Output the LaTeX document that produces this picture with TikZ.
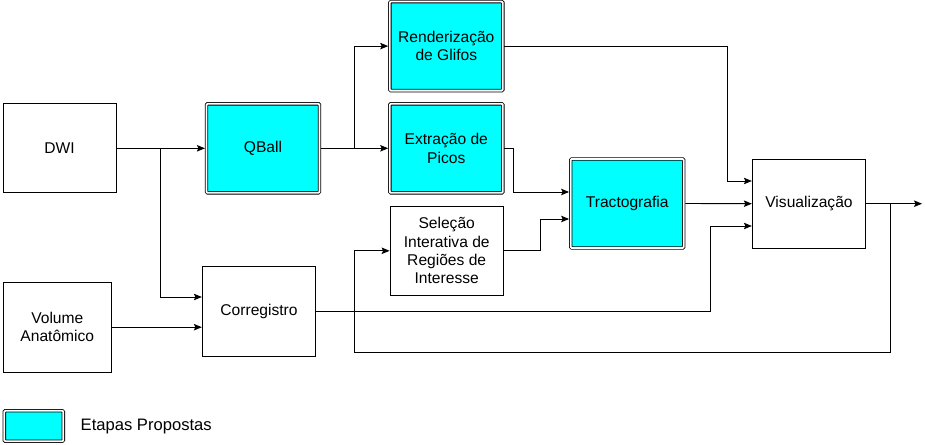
\documentclass[tikz,border=0pt]{standalone}
\usepackage{fontspec}
\setmainfont{Liberation Sans}
\usetikzlibrary{arrows.meta}
\definecolor{prop}{RGB}{0,255,255}
\tikzset{
  box/.style={draw, line width=0.9pt, minimum width=113pt, minimum height=89pt, inner sep=0pt, align=center, font=\fontsize{15.6}{18.3}\selectfont},
  propbox/.style={box, fill=prop, double=white, double distance=1.8pt, line width=0.8pt, rounded corners=1pt, outer sep=1.6pt},
  arr/.style={line width=0.9pt, -{Stealth[length=8pt,width=6.5pt,inset=1.5pt]}},
  ln/.style={line width=0.9pt}
}
\begin{document}
\begin{tikzpicture}[x=1pt,y=-1pt]
\useasboundingbox (0,0) rectangle (925,444);
% nodes
\node[box] (dwi) at (59.5,148.3) {DWI};
\node[box, minimum width=108.5pt, minimum height=89.5pt] (vol) at (57.3,327.2) {Volume\\Anatômico};
\node[propbox] (qball) at (263,148.3) {QBall};
\node[propbox] (ren) at (446.3,46.1) {Renderização\\de Glifos};
\node[propbox] (ext) at (446.3,148.3) {Extração de\\Picos};
\node[box, minimum width=113.3pt, minimum height=89.7pt] (sel) at (446.7,250.8) {Seleção\\Interativa de\\Regiões de\\Interesse};
\node[box, minimum width=113.4pt, minimum height=90pt] (cor) at (259,311.7) {Corregistro};
\node[propbox] (trac) at (627.2,203.5) {Tractografia};
\node[box, minimum width=113.4pt, minimum height=89.3pt] (vis) at (809,203.7) {Visualização};
% legend
\node[propbox, minimum width=59pt, minimum height=30.5pt] (leg) at (33.8,426) {};
\node[anchor=west, inner sep=0pt, font=\fontsize{16.6}{19}\selectfont] (legtxt) at (80.5,427) {Etapas Propostas};
% junction coordinates
\coordinate (j1) at (160,148.3);
\coordinate (j2) at (354,148.3);
\coordinate (j3) at (890,203.7);
\coordinate (out) at (922,203.7);
% connectors
\draw[arr] (dwi.east) -- (qball.west);
\draw[arr] (j1) -- (160,297) -- (cor.west |- 0,297);
\draw[arr] (vol.east) -- (cor.west |- vol.east);
\draw[arr] (qball.east) -- (ext.west);
\draw[arr] (j2) -- (ren.west -| j2) -- (ren.west);
\draw[arr] (ren.east) -- (727,46.1) -- (727,181) -- (vis.west |- 0,181);
\draw[arr] (ext.east) -- (513,148.3) -- (513,192) -- (trac.west |- 0,192);
\draw[arr] (sel.east) -- (540,250.8) -- (540,219) -- (trac.west |- 0,219);
\draw[arr] (trac.east) -- (vis.west);
\draw[arr] (cor.east) -- (710,311.7) -- (710,226) -- (vis.west |- 0,226);
\draw[arr] (vis.east) -- (out);
\draw[arr] (j3) -- (890,352.5) -- (354,352.5) -- (354,250.8) -- (sel.west);
\end{tikzpicture}
\end{document}
